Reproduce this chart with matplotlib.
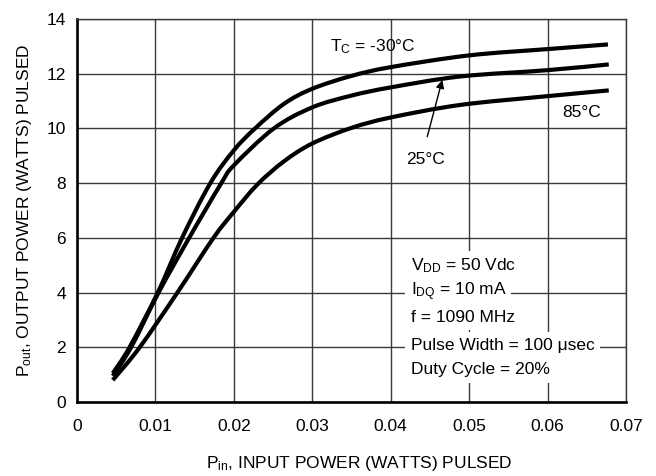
import matplotlib
matplotlib.use('Agg')
import matplotlib.pyplot as plt
from matplotlib.path import Path
from matplotlib.patches import PathPatch

# fonts: narrow Helvetica look if available
plt.rcParams['font.family'] = ['Liberation Sans Narrow', 'Liberation Sans', 'DejaVu Sans']
plt.rcParams['mathtext.default'] = 'regular'

# input power (W) and output power (W)
pin_m30 = [0.00456, 0.0067, 0.0103, 0.0134, 0.0170, 0.0200, 0.0227, 0.0264,
           0.0300, 0.0350, 0.0400, 0.0500, 0.0600, 0.0677]
pout_m30 = [1.05, 2.0, 4.0, 6.0, 8.0, 9.2, 10.0, 10.9,
            11.45, 11.92, 12.24, 12.67, 12.9, 13.07]

pin_25 = [0.00456, 0.0069, 0.0104, 0.0143, 0.0184, 0.0200, 0.0251,
          0.0300, 0.0350, 0.0400, 0.0489, 0.0600, 0.0678]
pout_25 = [0.95, 2.0, 4.0, 6.0, 8.0, 8.65, 10.0,
           10.77, 11.2, 11.5, 11.9, 12.13, 12.34]

pin_85 = [0.00456, 0.0080, 0.0128, 0.0174, 0.0200, 0.0230, 0.0264,
          0.0300, 0.0350, 0.0400, 0.0489, 0.0600, 0.0678]
pout_85 = [0.80, 2.0, 4.0, 6.0, 6.95, 7.95, 8.8,
           9.45, 10.02, 10.4, 10.86, 11.18, 11.39]

x_ticks = [0, 0.01, 0.02, 0.03, 0.04, 0.05, 0.06, 0.07]
x_tick_labels = ['0', '0.01', '0.02', '0.03', '0.04', '0.05', '0.06', '0.07']
y_ticks = [0, 2, 4, 6, 8, 10, 12, 14]

conditions = [
    'V$_{DD}$ = 50 Vdc',
    'I$_{DQ}$ = 10 mA',
    'f = 1090 MHz',
    'Pulse Width = 100 \u03bcsec',
    'Duty Cycle = 20%',
]

FS = 12.5


def smooth_path(xs, ys):
    """Catmull-Rom through the read points, as cubic bezier segments."""
    pts = list(zip(xs, ys))
    verts = [pts[0]]
    codes = [Path.MOVETO]
    for i in range(len(pts) - 1):
        p0 = pts[i - 1] if i > 0 else pts[i]
        p1 = pts[i]
        p2 = pts[i + 1]
        p3 = pts[i + 2] if i + 2 < len(pts) else pts[i + 1]
        c1 = (p1[0] + (p2[0] - p0[0]) / 6, p1[1] + (p2[1] - p0[1]) / 6)
        c2 = (p2[0] - (p3[0] - p1[0]) / 6, p2[1] - (p3[1] - p1[1]) / 6)
        verts += [c1, c2, p2]
        codes += [Path.CURVE4] * 3
    return Path(verts, codes)


fig = plt.figure(figsize=(6.56, 4.76), dpi=100)
ax = fig.add_subplot(111)
fig.subplots_adjust(left=77 / 656, right=626 / 656, bottom=1 - 402 / 476, top=1 - 19 / 476)

for xs, ys in [(pin_m30, pout_m30), (pin_25, pout_25), (pin_85, pout_85)]:
    ax.add_patch(PathPatch(smooth_path(xs, ys), fc='none', ec='black', lw=3,
                           capstyle='butt', joinstyle='round', zorder=3))

ax.set_xlim(0, 0.07)
ax.set_ylim(0, 14)
ax.set_xticks(x_ticks)
ax.set_xticklabels(x_tick_labels)
ax.set_yticks(y_ticks)
ax.tick_params(length=0, labelsize=FS)
ax.tick_params(axis='x', pad=12)
ax.tick_params(axis='y', pad=8)
ax.grid(True, color='#3a3a3a', lw=1.0, zorder=1)
ax.set_axisbelow(True)

for side in ['left', 'bottom']:
    ax.spines[side].set_linewidth(1.9)
for side in ['top', 'right']:
    ax.spines[side].set_linewidth(1.0)
    ax.spines[side].set_color('#3a3a3a')

ax.set_xlabel('P$_{in}$, INPUT POWER (WATTS) PULSED', fontsize=FS)
ax.xaxis.set_label_coords(0.514, -0.135)
ax.set_ylabel('P$_{out}$, OUTPUT POWER (WATTS) PULSED', fontsize=FS, labelpad=9)

# curve labels
ax.text(0.0323, 12.99, 'T$_C$ = -30\u00b0C', fontsize=FS, va='center', ha='left', zorder=4)
ax.text(0.0619, 10.57, '85\u00b0C', fontsize=FS, va='center', ha='left', zorder=4)
ax.text(0.0420, 8.85, '25\u00b0C', fontsize=FS, va='center', ha='left', zorder=4)
ax.annotate('', xy=(0.04657, 11.77), xytext=(0.04466, 9.70),
            arrowprops=dict(arrowstyle='-|>', color='black', lw=1.0,
                            mutation_scale=12, shrinkA=0, shrinkB=0), zorder=4)

# operating conditions, each line blanks the grid behind it
cond_y = [5.0, 4.02, 3.1, 2.08, 1.17]
for txt, yy in zip(conditions, cond_y):
    ax.text(0.04253, yy, txt, fontsize=FS, va='center', ha='left', zorder=4,
            bbox=dict(boxstyle='square,pad=0.3', fc='white', ec='none'))

fig.savefig('out.png', dpi=100)
